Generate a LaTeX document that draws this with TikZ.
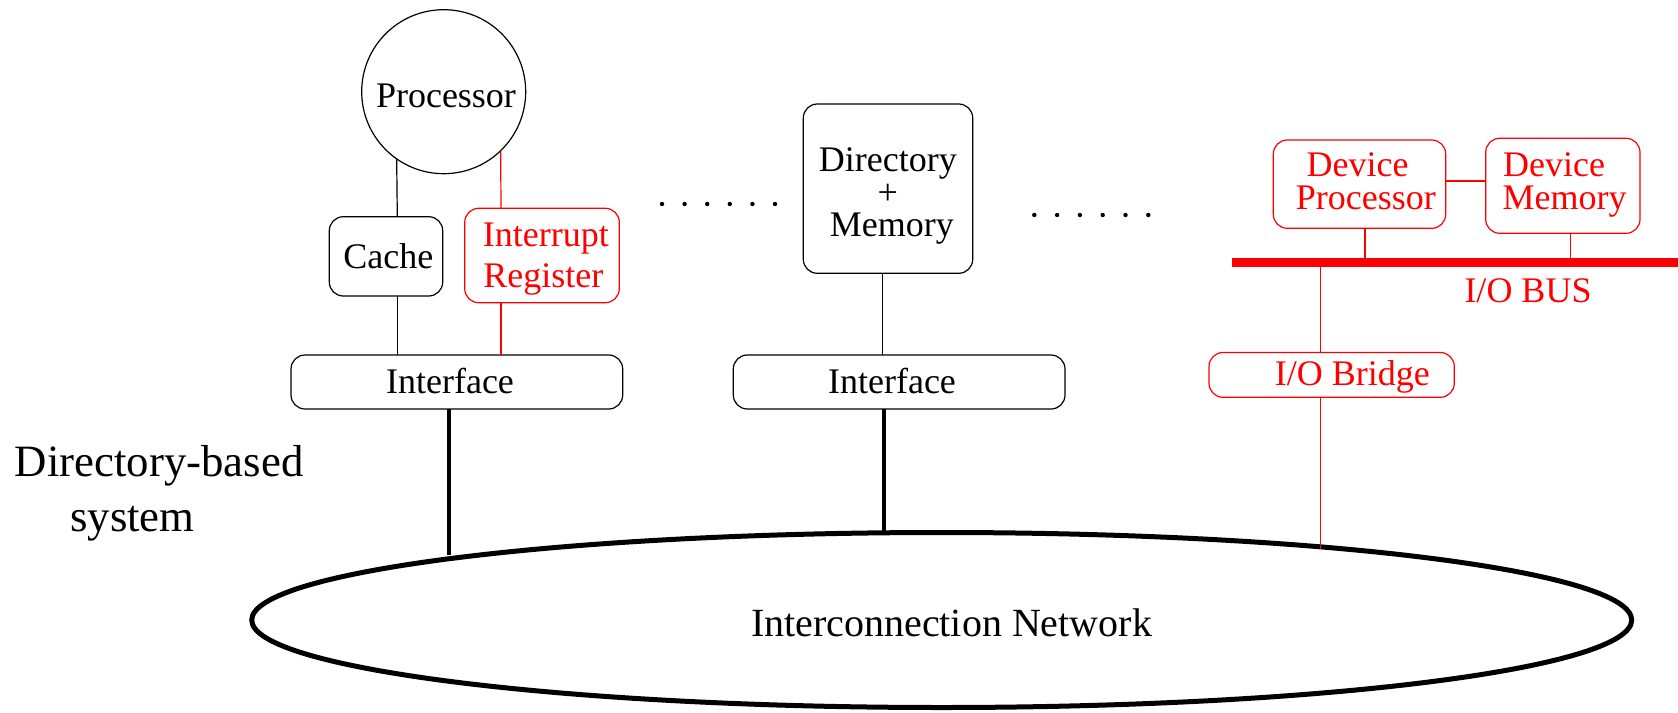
\documentclass[tikz,border=0pt]{standalone}
\usepackage{fontspec}
\setmainfont{Liberation Serif}
\usetikzlibrary{shapes.geometric}
\begin{document}
\begin{tikzpicture}[x=1pt,y=-1pt,
  boxs/.style={draw, rounded corners=14pt, line width=1.2pt, inner sep=0pt, outer sep=0pt},
  redbox/.style={boxs, draw=red},
  txt/.style={font=\fontsize{36}{40}\selectfont, inner sep=0pt, anchor=base},
  redtxt/.style={txt, text=red},
  thin/.style={line width=1.2pt},
  thinred/.style={line width=1.2pt, red},
  thick/.style={line width=4pt}]
\useasboundingbox (0,0) rectangle (1678,712);
% processor
\node[circle, draw, line width=1.2pt, minimum size=164pt, inner sep=0pt, outer sep=0pt] (proc) at (443.7,91.7) {};
\node[txt] (proctxt) at (446,107.3) {Processor};
% cache and interrupt register
\node[boxs, minimum width=113.4pt, minimum height=79.3pt] (cache) at (386,256.35) {};
\node[txt] (cachetxt) at (388.3,268.3) {Cache};
\node[redbox, minimum width=154.6pt, minimum height=94.4pt] (intreg) at (542,255.5) {};
\node[redtxt] (intregtxt1) at (545.8,246.7) {Interrupt};
\node[redtxt] (intregtxt2) at (543.3,287.3) {Register};
% interfaces
\node[boxs, minimum width=331.7pt, minimum height=54pt] (if1) at (456.85,382) {};
\node[txt] (if1txt) at (450,393.3) {Interface};
\node[boxs, minimum width=331.7pt, minimum height=54pt] (if2) at (899.15,382) {};
\node[txt] (if2txt) at (892,393.3) {Interface};
% directory + memory
\node[boxs, minimum width=169.4pt, minimum height=169.3pt] (dirmem) at (888,188.65) {};
\node[txt, font=\fontsize{36}{32.5}\selectfont, align=center] (dmtxt) at (887.8,236.7) {Directory\\+\\\hspace*{8pt}Memory};
% device side
\node[redbox, minimum width=172.4pt, minimum height=88.3pt] (devproc) at (1359.5,184.15) {};
\node[redtxt] (dptxt1) at (1357.5,176.7) {Device};
\node[redtxt] (dptxt2) at (1365.8,209.3) {Processor};
\node[redbox, minimum width=154.3pt, minimum height=95pt] (devmem) at (1562.85,185.8) {};
\node[redtxt] (dmemtxt1) at (1554,176.7) {Device};
\node[redtxt] (dmemtxt2) at (1564.5,209.3) {Memory};
\node[redbox, minimum width=245.3pt, minimum height=44.8pt] (bridge) at (1331.65,374.9) {};
\node[redtxt] (bridgetxt) at (1352.3,385) {I/O Bridge};
\coordinate (busL) at (1231.7,262);
\coordinate (busR) at (1678,262);
\node[redtxt] (bustxt) at (1528,302.7) {I/O BUS};
% network
\node[ellipse, draw, line width=5pt, minimum width=1380pt, minimum height=175pt, inner sep=0pt, outer sep=0pt] (net) at (941.7,620) {};
\node[txt, font=\fontsize{40}{44}\selectfont] (nettxt) at (951.5,636.7) {Interconnection Network};
% side label
\node[txt, font=\fontsize{44.8}{50}\selectfont] (sys1) at (159.2,476.7) {Directory-based};
\node[txt, font=\fontsize{44.8}{50}\selectfont] (sys2) at (132.5,531.7) {system};
% dots
\foreach \i in {0,...,5} {
  \fill (662+22.6*\i,204) circle (2.2pt);
  \fill (1034.3+22.8*\i,215) circle (2.2pt);
}
% connectors
\draw[thin] ([xshift=11.3pt]cache.north) -- (proc.235.5);
\draw[thin] ([xshift=11.3pt]cache.south) -- ([xshift=11.3pt]cache.south |- if1.north);
\draw[thinred] ([xshift=-41pt]intreg.north) -- (proc.314.3);
\draw[thinred] ([xshift=-41pt]intreg.south) -- ([xshift=-41pt]intreg.south |- if1.north);
\draw[thin] ([xshift=-5.7pt]dirmem.south) -- ([xshift=-5.7pt]dirmem.south |- if2.north);
\draw[thick] ([xshift=-7.55pt]if1.south) -- ([xshift=-7.55pt]if1.south |- net.172.9);
\draw[thick] ([xshift=-14.85pt]if2.south) -- ([xshift=-14.85pt]if2.south |- net.123.4);
\draw[line width=9pt, red] (busL) -- (busR);
\draw[thinred] (devproc.east |- 0,181) -- (devmem.west |- 0,181);
\draw[thinred] ([xshift=5.5pt]devproc.south) -- ([xshift=5.5pt]devproc.south |- busL);
\draw[thinred] ([xshift=7.85pt]devmem.south) -- ([xshift=7.85pt]devmem.south |- busL);
\draw[thinred] ([xshift=-10.95pt]bridge.north) -- ([xshift=-10.95pt]bridge.north |- busL);
\draw[thinred] ([xshift=-10.95pt]bridge.south) -- ([xshift=-10.95pt]bridge.south |- net.10.9);
\end{tikzpicture}
\end{document}
